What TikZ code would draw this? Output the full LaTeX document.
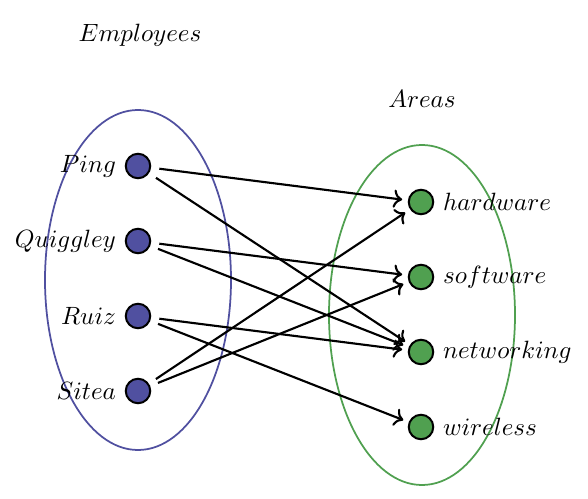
\documentclass[tikz,border=0pt]{standalone}
\usetikzlibrary{arrows.meta}
\definecolor{empblue}{RGB}{80,80,160}
\definecolor{areagreen}{RGB}{80,160,80}
\begin{document}
\begin{tikzpicture}[x=0.4pt,y=-0.4pt,
  empdot/.style={circle,draw=black,fill=empblue,line width=0.8pt,minimum size=9.8pt,inner sep=0pt},
  areadot/.style={circle,draw=black,fill=areagreen,line width=0.8pt,minimum size=9.8pt,inner sep=0pt},
  link/.style={->,line width=0.85pt,shorten <=3.3pt,shorten >=2.3pt},
  llbl/.style={label distance=4pt},
  rlbl/.style={label distance=5.6pt}]
\useasboundingbox (0,0) rectangle (588,499);
\draw[empblue,line width=0.7pt] (138,280) ellipse [x radius=37.2pt,y radius=68pt];
\draw[areagreen,line width=0.7pt] (422,315) ellipse [x radius=37.2pt,y radius=68pt];
\node (emp) at (140,35) {$Employees$};
\node (areas) at (422,99) {$Areas$};
\node[empdot,llbl,label=left:$Ping$] (p) at (138,166) {};
\node[empdot,llbl,label=left:$Quiggley$] (q) at (138,241) {};
\node[empdot,llbl,label=left:$Ruiz$] (r) at (138,316) {};
\node[empdot,llbl,label=left:$Sitea$] (s) at (138,391) {};
\node[areadot,rlbl,label=right:$hardware$] (h) at (421,202) {};
\node[areadot,rlbl,label=right:$software$] (sw) at (421,277) {};
\node[areadot,rlbl,label=right:$networking$] (n) at (421,352) {};
\node[areadot,rlbl,label=right:$wireless$] (w) at (421,427) {};
\draw[link] (p) -- (h);
\draw[link] (p) -- (n);
\draw[link] (q) -- (sw);
\draw[link] (q) -- (n);
\draw[link] (r) -- (n);
\draw[link] (r) -- (w);
\draw[link] (s) -- (h);
\draw[link] (s) -- (sw);
\end{tikzpicture}
\end{document}
